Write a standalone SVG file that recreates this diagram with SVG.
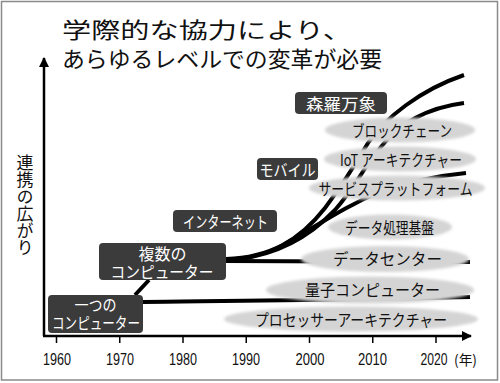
<svg xmlns="http://www.w3.org/2000/svg" width="500" height="383" viewBox="0 0 500 383">
<defs>
<style>
.jp{font-family:"Noto Sans CJK JP","Noto Sans",sans-serif;}
.num{font-family:"Liberation Sans",Arial,sans-serif;font-size:16px;fill:#111;}
.box{fill:#3b3b3b;}
.bt{font-family:"Noto Sans CJK JP",sans-serif;fill:#fff;font-size:16px;dominant-baseline:central;text-anchor:middle;}
.el{fill:#d4d4d4;filter:url(#soft);}
.et{font-family:"Noto Sans CJK JP",sans-serif;fill:#111;font-size:16px;dominant-baseline:central;text-anchor:middle;}
.ln{fill:none;stroke:#000;stroke-width:4;}
.ax{fill:none;stroke:#000;stroke-width:2.5;}
.tk{stroke:#000;stroke-width:1.5;}
</style>
<filter id="soft" x="-10%" y="-50%" width="120%" height="200%"><feGaussianBlur stdDeviation="1.6"/></filter>
<marker id="arr" viewBox="0 0 10 10" refX="9" refY="5" markerWidth="4" markerHeight="4" orient="auto" markerUnits="strokeWidth"><path d="M0,0 L10,5 L0,10 Z" fill="#000"/></marker>
</defs>
<rect x="1.5" y="1.5" width="496" height="378.5" fill="#fff" stroke="#8a8a8a" stroke-width="1.5"/>

<g id="title" class="jp" font-size="22" fill="#111">
<text x="62" y="38" textLength="290" lengthAdjust="spacingAndGlyphs">学際的な協力により、</text>
<text x="62" y="67" textLength="320" lengthAdjust="spacingAndGlyphs">あらゆるレベルでの変革が必要</text>
</g>

<g id="axes">
<line class="ax" x1="44" y1="336" x2="44" y2="58" marker-end="url(#arr)"/>
<line class="ax" x1="43" y1="336" x2="471" y2="336" marker-end="url(#arr)"/>
<g class="tk">
<line x1="56.5" y1="336" x2="56.5" y2="343"/>
<line x1="119.75" y1="336" x2="119.75" y2="343"/>
<line x1="183" y1="336" x2="183" y2="343"/>
<line x1="246.25" y1="336" x2="246.25" y2="343"/>
<line x1="309.5" y1="336" x2="309.5" y2="343"/>
<line x1="372.75" y1="336" x2="372.75" y2="343"/>
<line x1="436" y1="336" x2="436" y2="343"/>
</g>
<g class="num" text-anchor="middle">
<text x="57" y="365" textLength="28" lengthAdjust="spacingAndGlyphs">1960</text>
<text x="120" y="365" textLength="28" lengthAdjust="spacingAndGlyphs">1970</text>
<text x="183" y="365" textLength="28" lengthAdjust="spacingAndGlyphs">1980</text>
<text x="246" y="365" textLength="28" lengthAdjust="spacingAndGlyphs">1990</text>
<text x="310" y="365" textLength="29" lengthAdjust="spacingAndGlyphs">2000</text>
<text x="372.5" y="365" textLength="29" lengthAdjust="spacingAndGlyphs">2010</text>
<text x="434" y="365" textLength="27" lengthAdjust="spacingAndGlyphs">2020</text>
</g>
<text class="jp" x="454" y="365" font-size="14" fill="#111" textLength="23" lengthAdjust="spacingAndGlyphs">(年)</text>
<text class="jp" x="25" y="205" font-size="17" fill="#111" text-anchor="middle" style="writing-mode:vertical-rl">連携の広がり</text>
</g>

<g id="connectors">
<path class="ln" d="M143,302 C220,301 350,300 470,297"/>
<path class="ln" d="M135,295 L149,280"/>
<path class="ln" d="M226,261 L470,262"/>
<path class="ln" d="M226,259 C270,258 300,240 325,208 C340,188 355,165 368,143 C385,118 420,90 464,75"/>
<path class="ln" d="M238,259 C280,254 312,234 335,210 C348,195 356,182 364,170 C372,158 378,150 386,141 C400,125 425,108 464,103"/>
<path class="ln" d="M285,244 C320,224 345,206 380,192 C410,181 435,176 466,173"/>
</g>

<g id="tech-labels">
<g id="n-blockchain"><ellipse class="el" cx="400" cy="130" rx="75" ry="12.5"/><text class="et" x="402" y="130" font-size="15" textLength="100" lengthAdjust="spacingAndGlyphs">ブロックチェーン</text></g>
<g id="n-iot"><ellipse class="el" cx="400" cy="159" rx="76" ry="12.5"/><text class="et" x="401" y="159" font-size="15" textLength="122" lengthAdjust="spacingAndGlyphs">IoT アーキテクチャー</text></g>
<g id="n-service"><ellipse class="el" cx="397" cy="188" rx="88" ry="12.5"/><text class="et" x="395.5" y="188" font-size="15" textLength="154" lengthAdjust="spacingAndGlyphs">サービスプラットフォーム</text></g>
<g id="n-dataproc"><ellipse class="el" cx="390" cy="227" rx="62" ry="12.5"/><text class="et" x="389.5" y="227" font-size="15" textLength="89" lengthAdjust="spacingAndGlyphs">データ処理基盤</text></g>
<g id="n-datacenter"><ellipse class="el" cx="385" cy="259" rx="84" ry="13"/><text class="et" x="387.5" y="258" font-size="16" textLength="109" lengthAdjust="spacingAndGlyphs">データセンター</text></g>
<g id="n-quantum"><ellipse class="el" cx="370" cy="290" rx="104" ry="13.5"/><text class="et" x="372.5" y="289" font-size="16" textLength="135" lengthAdjust="spacingAndGlyphs">量子コンピューター</text></g>
<g id="n-processor"><ellipse class="el" cx="351" cy="319" rx="127" ry="12.5"/><text class="et" x="351" y="319" font-size="16" textLength="192" lengthAdjust="spacingAndGlyphs">プロセッサーアーキテクチャー</text></g>
</g>

<g id="era-labels">
<g id="n-single"><rect class="box" x="48" y="295" width="95" height="38" rx="4"/><text class="bt" x="95.5" y="304" font-size="14" textLength="42" lengthAdjust="spacingAndGlyphs">一つの</text><text class="bt" x="96" y="322" font-size="14" textLength="88" lengthAdjust="spacingAndGlyphs">コンピューター</text></g>
<g id="n-multi"><rect class="box" x="99" y="243" width="127" height="37" rx="4"/><text class="bt" x="162.5" y="253" font-size="15" textLength="48" lengthAdjust="spacingAndGlyphs">複数の</text><text class="bt" x="162" y="271" font-size="15" textLength="103" lengthAdjust="spacingAndGlyphs">コンピューター</text></g>
<g id="n-internet"><rect class="box" x="173" y="210" width="104" height="22" rx="4"/><text class="bt" x="225.5" y="221" font-size="15" textLength="85" lengthAdjust="spacingAndGlyphs">インターネット</text></g>
<g id="n-mobile"><rect class="box" x="257" y="158" width="61" height="22" rx="4"/><text class="bt" x="287.5" y="169" font-size="16" textLength="56" lengthAdjust="spacingAndGlyphs">モバイル</text></g>
<g id="n-all"><rect class="box" x="295" y="92" width="92" height="22" rx="4"/><text class="bt" x="341" y="103" font-size="17" textLength="70" lengthAdjust="spacingAndGlyphs">森羅万象</text></g>
</g>
</svg>
